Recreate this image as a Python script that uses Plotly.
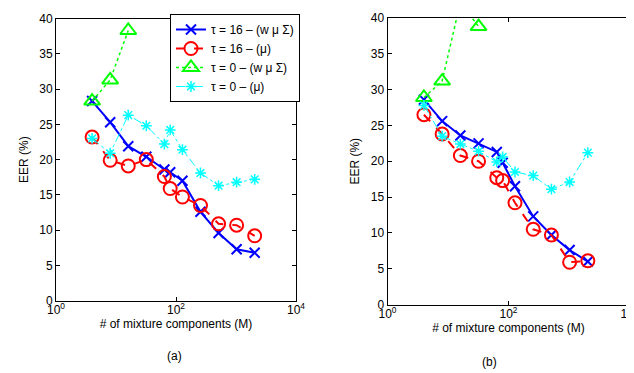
import plotly.graph_objects as go

# ---------------- data ----------------
M = [4, 8, 16, 32, 64, 80, 128, 256, 512, 1024, 2048]

# panel (a)
a_t16_wms = [28.3, 25.3, 21.9, 20.4, 18.6, 18.2, 17.0, 12.6, 9.6, 7.3, 6.8]
a_t16_mu = [23.2, 19.9, 19.1, 20.0, 17.6, 15.9, 14.7, 13.5, 10.9, 10.7, 9.2]
a_M_t0_wms = [4, 8, 16]
a_t0_wms = [28.3, 31.3, 38.3]
a_t0_mu = [23.0, 20.9, 26.3, 24.8, 22.2, 24.2, 21.4, 18.1, 16.3, 16.8, 17.2]

# panel (b)
b_t16_wms = [28.6, 25.6, 23.6, 22.5, 21.3, 19.8, 16.5, 12.3, 9.7, 7.6, 6.0]
b_t16_mu = [26.5, 23.8, 20.8, 20.0, 17.7, 17.3, 14.2, 10.5, 9.7, 5.9, 6.1]
b_M_t0_wms = [4, 8, 16, 32]
b_t0_wms = [28.9, 31.2, 42.2, 38.8]
b_t0_mu = [27.8, 23.5, 22.4, 21.4, 19.9, 20.6, 18.5, 18.0, 16.1, 17.1, 21.2]

names = ["τ = 16 – (w μ Σ)", "τ = 16 – (μ)", "τ = 0 – (w μ Σ)", "τ = 0 – (μ)"]
x_tickvals = [1, 100, 10000]
x_ticktext = ["10<sup>0</sup>", "10<sup>2</sup>", "10<sup>4</sup>"]
y_tickvals = [0, 5, 10, 15, 20, 25, 30, 35, 40]
panel_labels = ["(a)", "(b)"]
x_title = "# of mixture components (M)"
y_title = "EER (%)"

FONT = "Liberation Sans, Arial, Helvetica, sans-serif"
W, H = 634, 373

fig = go.Figure()

def add_panel(xa, ya, s_wms, s_mu, m0, s0_wms, s0_mu, show):
    fig.add_trace(go.Scatter(x=M, y=s_wms, name=names[0], mode="lines+markers",
                             line=dict(color="#0000ff", width=2),
                             marker=dict(symbol="x-thin-open", size=10, line=dict(color="#0000ff", width=2)),
                             xaxis=xa, yaxis=ya, showlegend=show))
    fig.add_trace(go.Scatter(x=M, y=s_mu, name=names[1], mode="lines+markers",
                             line=dict(color="#ff0000", width=2, dash="dash"),
                             marker=dict(symbol="circle-open", size=13, line=dict(color="#ff0000", width=2)),
                             xaxis=xa, yaxis=ya, showlegend=show))
    fig.add_trace(go.Scatter(x=m0, y=s0_wms, name=names[2], mode="lines+markers",
                             line=dict(color="#00ff00", width=1.5, dash="dot"),
                             marker=dict(symbol="triangle-up-open", size=14, line=dict(color="#00ff00", width=2)),
                             xaxis=xa, yaxis=ya, showlegend=show))
    fig.add_trace(go.Scatter(x=M, y=s0_mu, name=names[3], mode="lines+markers",
                             line=dict(color="#00ffff", width=1, dash="dashdot"),
                             marker=dict(symbol="asterisk-open", size=9, line=dict(color="#00ffff", width=1.5)),
                             xaxis=xa, yaxis=ya, showlegend=show))

add_panel("x", "y", a_t16_wms, a_t16_mu, a_M_t0_wms, a_t0_wms, a_t0_mu, True)
add_panel("x2", "y2", b_t16_wms, b_t16_mu, b_M_t0_wms, b_t0_wms, b_t0_mu, False)

def px(x):
    return x / W

def py(y):
    return 1 - y / H

xcommon = dict(type="log", range=[0, 4], tickvals=x_tickvals, ticktext=x_ticktext,
               showline=True, linecolor="black", linewidth=1, mirror="ticks",
               ticks="inside", ticklen=4, tickcolor="black", showgrid=False, zeroline=False,
               automargin=False, ticklabelstandoff=-2,
               tickfont=dict(size=12, color="black", family=FONT),
               title=dict(text=x_title, font=dict(size=12, color="black", family=FONT), standoff=2))
ycommon = dict(range=[0, 40], tickvals=y_tickvals,
               showline=True, linecolor="black", linewidth=1, mirror="ticks",
               ticks="inside", ticklen=4, tickcolor="black", showgrid=False, zeroline=False,
               automargin=False,
               tickfont=dict(size=12, color="black", family=FONT),
               title=dict(text=y_title, font=dict(size=12, color="black", family=FONT), standoff=8))

fig.update_layout(
    width=W, height=H, margin=dict(l=0, r=0, t=0, b=0, autoexpand=False),
    paper_bgcolor="white", plot_bgcolor="white",
    font=dict(family=FONT, size=12, color="black"),
    xaxis=dict(domain=[px(48), px(288)], anchor="y", **xcommon),
    yaxis=dict(domain=[py(292.7), py(10.5)], anchor="x", **ycommon),
    xaxis2=dict(domain=[px(379.5), px(621.5)], anchor="y2", **xcommon),
    yaxis2=dict(domain=[py(296.5), py(10)], anchor="x2", **ycommon),
    legend=dict(x=px(162), y=py(6), xanchor="left", yanchor="top",
                bgcolor="white", bordercolor="black", borderwidth=1,
                font=dict(size=12, family=FONT, color="black"),
                tracegroupgap=0, itemwidth=30),
    annotations=[
        dict(text=panel_labels[0], x=px(157), y=py(357), xref="paper", yref="paper",
             showarrow=False, font=dict(size=12, family=FONT, color="black")),
        dict(text=panel_labels[1], x=px(491), y=py(363), xref="paper", yref="paper",
             showarrow=False, font=dict(size=12, family=FONT, color="black")),
    ],
)

fig.write_html("out.html")
